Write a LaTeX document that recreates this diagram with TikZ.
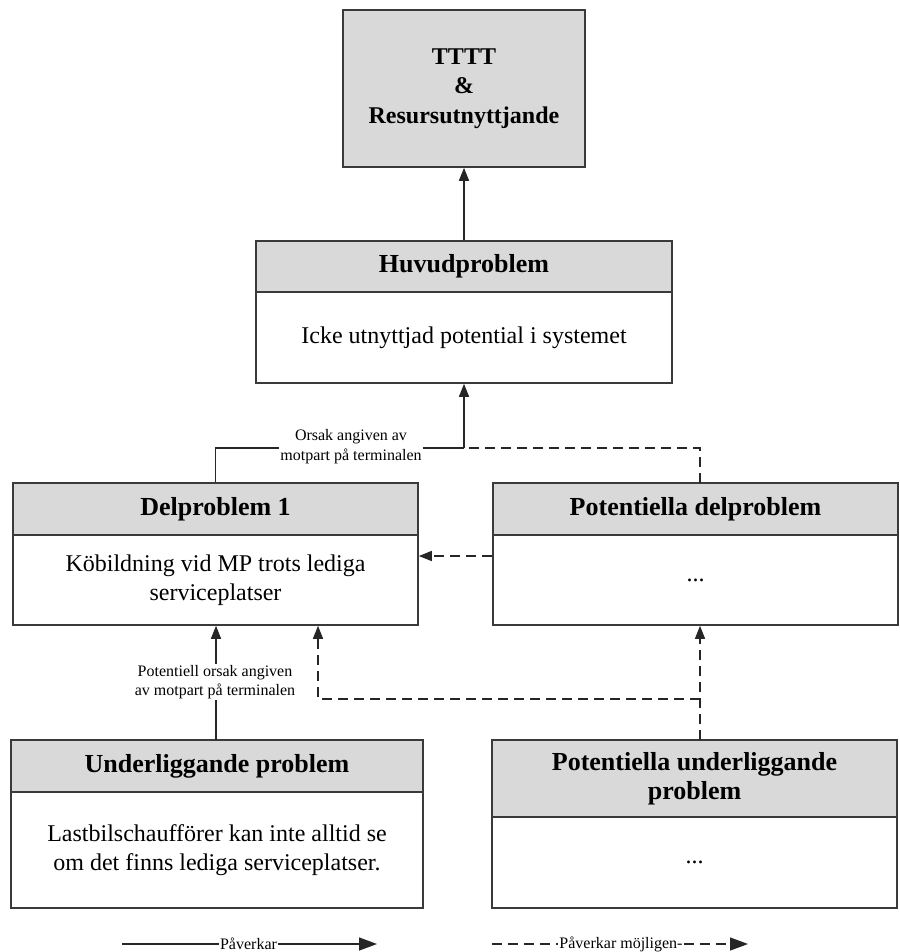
\documentclass[tikz,border=0pt]{standalone}
\usepackage{fontspec}
\setmainfont{Liberation Serif}
\usetikzlibrary{arrows.meta}
\definecolor{hdrgray}{HTML}{D9D9D9}
\definecolor{edge}{HTML}{3A3A3A}
\begin{document}
\begin{tikzpicture}[x=1pt,y=-1pt,
  hdr/.style={draw=edge, fill=hdrgray, line width=1.6pt, inner sep=0pt, align=center,
    font=\fontsize{26}{29.5}\selectfont\bfseries},
  topbox/.style={hdr, font=\fontsize{24}{29.5}\selectfont\bfseries},
  bodybox/.style={draw=edge, fill=white, line width=1.6pt, inner sep=0pt, align=center,
    font=\fontsize{24}{28.5}\selectfont},
  conn/.style={line width=1.3pt, draw=black!85, -{Triangle[length=13pt,width=10pt]}},
  dconn/.style={conn, dash pattern=on 10pt off 6pt},
  dline/.style={line width=1.3pt, draw=black!85, dash pattern=on 10pt off 6pt},
  sline/.style={line width=1.3pt, draw=black!85},
  lbl/.style={fill=white, inner sep=1pt, align=center, font=\fontsize{16}{19.5}\selectfont},
  leg/.style={inner sep=1pt, font=\fontsize{16}{19}\selectfont},
  legtip/.style={-{Triangle[length=18pt,width=13pt]}}
]
\useasboundingbox (0,0) rectangle (899,952);

% top box
\node[topbox, minimum width=242, minimum height=157] (top) at (464,88.5)
  {TTTT\\\&\\Resursutnyttjande};

% Huvudproblem
\node[hdr, minimum width=416, minimum height=51] (huvH) at (464,266.5) {Huvudproblem};
\node[bodybox, minimum width=416, minimum height=91] (huvB) at (464,337.5)
  {Icke utnyttjad potential i systemet};

% Delproblem 1
\node[hdr, minimum width=405, minimum height=52] (delH) at (215.5,509) {Delproblem 1};
\node[bodybox, minimum width=405, minimum height=90] (delB) at (215.5,580)
  {Köbildning vid MP trots lediga\\serviceplatser};

% Potentiella delproblem
\node[hdr, minimum width=405, minimum height=52] (pdH) at (695.5,509) {Potentiella delproblem};
\node[bodybox, minimum width=405, minimum height=90] (pdB) at (695.5,580) {...};

% Underliggande problem
\node[hdr, minimum width=412, minimum height=52] (unH) at (217,766) {Underliggande problem};
\node[bodybox, minimum width=412, minimum height=116] (unB) at (217,850)
  {Lastbilschaufförer kan inte alltid se\\om det finns lediga serviceplatser.};

% Potentiella underliggande problem
\node[hdr, minimum width=405, minimum height=77] (puH) at (694.5,778.5)
  {Potentiella underliggande\\problem};
\node[bodybox, minimum width=405, minimum height=91] (puB) at (694.5,862.5) {...};

% connectors
\coordinate (j1) at (464,448);
\coordinate (j2) at (318,699);
\coordinate (pdTop) at (700,483);
\coordinate (puTop) at (700,740);
\coordinate (unTop) at (216,740);
\draw[conn] (huvH.north) -- (top.south);
\draw[sline] (delH.north) |- (j1);
\draw[dline] (pdTop) |- (j1);
\draw[conn] (j1) -- (huvB.south);
\node[lbl] (lab1) at (351,446.5) {Orsak angiven av\\motpart på terminalen};

\draw[dconn] ([yshift=24pt]pdB.west) -- ([yshift=24pt]pdB.west -| delB.east);

\draw[conn] (unTop) -- (unTop |- delB.south);
\node[lbl] (lab2) at (215,682) {Potentiell orsak angiven\\av motpart på terminalen};

\draw[dconn] (puTop) -- (puTop |- pdB.south);
\draw[dconn] (puTop |- j2) -- (j2) -- (j2 |- delB.south);

% legend
\node[leg] (leg1) at (248.5,944) {Påverkar};
\coordinate (l1s) at (122,944);
\coordinate (l1e) at (377,944);
\draw[sline] (l1s) -- (leg1.west);
\draw[sline, legtip] (leg1.east) -- (l1e);

\node[leg] (leg2) at (621,944) {Påverkar möjligen-};
\coordinate (l2s) at (492,944);
\coordinate (l2e) at (748,944);
\draw[dline] (l2s) -- (leg2.west);
\draw[dline, legtip] (leg2.east) -- (l2e);
\end{tikzpicture}
\end{document}
